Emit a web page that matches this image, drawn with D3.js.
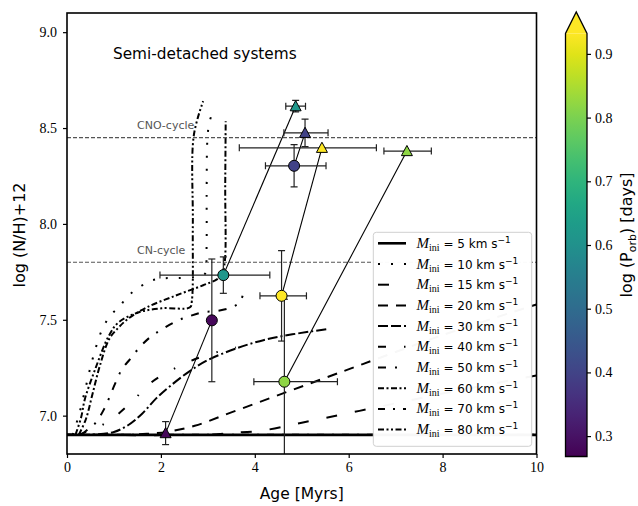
<!DOCTYPE html>
<html><head><meta charset="utf-8">
<script src="https://cdn.jsdelivr.net/npm/d3@7"></script>
<style>body{margin:0;background:#fff}</style>
</head><body><svg id="c" width="638" height="506" xmlns="http://www.w3.org/2000/svg"></svg>
<script>
// ---------------- data ----------------
const xDomain = [0, 10];
const yDomain = [6.8, 9.1];
const xTicks = [0, 2, 4, 6, 8, 10];
const yTicks = [7.0, 7.5, 8.0, 8.5, 9.0];
const cDomain = [0.268, 0.932];
const cTicks = [0.3, 0.4, 0.5, 0.6, 0.7, 0.8, 0.9];

const trackLabels = [5, 10, 15, 20, 30, 40, 50, 60, 70, 80];
const trackDash = ["", "2,11", "11,18", "10,8", "10,3,10,3,2,3", "8,18,1.5,18", "8,9,2,9", "6,2.5,2,2.5", "7,8,2,8", "6,2.5,2,2.5,2,2.5"];

const track5  = [[0,6.9],[10,6.9]];
const track10 = [[0.12,6.9],[0.25,7.0],[0.4,7.15],[0.55,7.3],[0.75,7.45],[0.95,7.53],[1.11,7.565],[1.27,7.617],[1.48,7.659],[1.77,7.702],[2.04,7.716],[2.36,7.718],[2.8,7.725],[2.94,7.74],[2.97,7.85],[2.975,8.2],[2.99,8.44],[3.03,8.527],[3.11,8.587]];
const track15 = [[0,6.9],[3.0,6.901],[3.5,6.91],[4.15,6.922],[5.0,6.963],[6.23,7.025],[8,7.115],[10,7.21]];
const track20 = [[0,6.9],[1.2,6.9],[1.7,6.905],[2.12,6.915],[2.72,6.947],[3.5,7.017],[4.6,7.116],[5.5,7.197],[6.3,7.269],[8,7.42],[10,7.58]];
const track30 = [[0,6.9],[0.6,6.902],[1.0,6.915],[1.3,6.95],[1.6,7.01],[1.9,7.09],[2.2,7.155],[2.6,7.23],[3.0,7.29],[3.6,7.35],[4.2,7.395],[4.8,7.424],[5.53,7.451]];
const track40 = [[0.25,6.9],[0.5,6.925],[0.7,6.945],[1.02,6.995],[1.4,7.077],[1.8,7.174],[2.26,7.242],[2.72,7.294],[3.26,7.336],[3.6,7.355]];
const track50 = [[0.3,6.9],[0.45,6.93],[0.6,6.96],[0.79,7.034],[1.02,7.164],[1.17,7.242],[1.34,7.294],[1.55,7.357],[1.77,7.409],[2.02,7.45],[2.34,7.494],[2.62,7.52],[2.89,7.539],[3.19,7.546],[3.5,7.564],[3.68,7.591],[3.74,7.625]];
const track60 = [[0.25,6.9],[0.4,6.98],[0.55,7.12],[0.7,7.26],[0.9,7.40],[1.1,7.46],[1.3,7.505],[1.7,7.565],[2.3,7.625],[2.9,7.68],[3.2,7.712],[3.3,7.74],[3.36,7.80],[3.37,8.2],[3.38,8.535]];
const track70 = [[0,6.9],[10,6.9]];
const track80 = [[0.18,6.9],[0.3,6.99],[0.38,7.086],[0.6,7.242],[0.89,7.416],[1.1,7.487],[1.53,7.539],[2.02,7.56],[2.62,7.565],[2.66,7.6],[2.68,8.0],[2.7,8.46],[2.9,8.64]];
const tracks = [track5, track10, track15, track20, track30, track40, track50, track60, track70, track80];

const cycleLevels = [8.45, 7.8];
const cycleNames = ["CNO-cycle", "CN-cycle"];

// circles (paired with triangles by index)
const circAge   = [3.085, 3.33, 4.57, 4.63, 4.837];
const circNH    = [7.497, 7.733, 7.625, 7.177, 8.303];
const circXLo   = [0, 1.35, 0.46, 0.65, 0.61];
const circXHi   = [0, 0.99, 0.53, 1.13, 0.68];
const circYErr  = [0.32, 0.095, 0.236, 0.43, 0.11];
const pairPorb  = [0.28, 0.62, 0.93, 0.82, 0.40];
const triAge    = [2.10, 4.87, 5.43, 7.24, 5.07];
const triNH     = [6.909, 8.614, 8.397, 8.38, 8.475];
const triXLo    = [0, 0.21, 1.76, 0.49, 0.45];
const triXHi    = [0, 0.21, 1.16, 0.52, 0.49];
const triYErr   = [0.06, 0.03, 0, 0, 0.072];

// ---------------- drawing ----------------
const svg = d3.select("#c");
svg.append("rect").attr("width",638).attr("height",506).attr("fill","#fff");
const L = 67, R = 536.5, T = 13, B = 454;
const x = d3.scaleLinear().domain(xDomain).range([L, R]);
const y = d3.scaleLinear().domain(yDomain).range([B, T]);
const cnorm = d3.scaleLinear().domain(cDomain).range([0,1]).clamp(true);
const col = v => d3.interpolateViridis(cnorm(v));
const serif = "'Liberation Serif','DejaVu Serif',serif";
const sans = "'DejaVu Sans',sans-serif";

svg.append("defs").append("clipPath").attr("id","clip")
  .append("rect").attr("x",L).attr("y",T).attr("width",R-L).attr("height",B-T);
const plot = svg.append("g").attr("clip-path","url(#clip)");

const line = d3.line().x(d=>x(d[0])).y(d=>y(d[1])).curve(d3.curveCatmullRom.alpha(0.5));
tracks.forEach((tr,i)=>{
  plot.append("path").attr("d", line(tr)).attr("fill","none").attr("stroke","#000")
    .attr("stroke-width", i===0 ? 2.6 : 2).attr("stroke-dasharray", trackDash[i] || null);
});

// cycle lines
cycleLevels.forEach((v,i)=>{
  plot.append("line").attr("x1",L).attr("x2",R).attr("y1",y(v)).attr("y2",y(v))
    .attr("stroke","#555").attr("stroke-width",1.1).attr("stroke-dasharray","4,2");
  svg.append("text").attr("x",137).attr("y",y(v)-8.5).text(cycleNames[i])
    .attr("font-family",sans).attr("font-size",11).attr("fill","#555");
});

// connectors
circAge.forEach((a,i)=>{
  plot.append("line").attr("x1",x(a)).attr("y1",y(circNH[i])).attr("x2",x(triAge[i])).attr("y2",y(triNH[i]))
    .attr("stroke","#000").attr("stroke-width",1.1);
});

function errbar(cx, cy, xlo, xhi, yerr){
  const g = plot.append("g").attr("stroke","#222").attr("stroke-width",1.2);
  const cap = 3.5;
  if (xlo>0 || xhi>0){
    g.append("line").attr("x1",x(cx-xlo)).attr("x2",x(cx+xhi)).attr("y1",y(cy)).attr("y2",y(cy));
    [cx-xlo, cx+xhi].forEach(v=>g.append("line").attr("x1",x(v)).attr("x2",x(v)).attr("y1",y(cy)-cap).attr("y2",y(cy)+cap));
  }
  if (yerr>0){
    g.append("line").attr("x1",x(cx)).attr("x2",x(cx)).attr("y1",y(cy-yerr)).attr("y2",y(cy+yerr));
    [cy-yerr, cy+yerr].forEach(v=>g.append("line").attr("x1",x(cx)-cap).attr("x2",x(cx)+cap).attr("y1",y(v)).attr("y2",y(v)));
  }
}
circAge.forEach((a,i)=>errbar(a, circNH[i], circXLo[i], circXHi[i], circYErr[i]));
triAge.forEach((a,i)=>errbar(a, triNH[i], triXLo[i], triXHi[i], triYErr[i]));

circAge.forEach((a,i)=>{
  plot.append("circle").attr("cx",x(a)).attr("cy",y(circNH[i])).attr("r",5.5)
    .attr("fill",col(pairPorb[i])).attr("stroke","#000").attr("stroke-width",1);
});
triAge.forEach((a,i)=>{
  const cx = x(a), cy = y(triNH[i]);
  plot.append("path").attr("d",`M${cx},${cy-5.6}L${cx+5.5},${cy+4.6}L${cx-5.5},${cy+4.6}Z`)
    .attr("fill",col(pairPorb[i])).attr("stroke","#000").attr("stroke-width",1);
});

// frame
svg.append("rect").attr("x",L).attr("y",T).attr("width",R-L).attr("height",B-T)
  .attr("fill","none").attr("stroke","#000").attr("stroke-width",1.6);

// axes
const xa = svg.append("g").attr("transform",`translate(0,${B})`)
  .call(d3.axisBottom(x).tickValues(xTicks).tickFormat(d3.format("d")).tickSize(4).tickPadding(4));
const ya = svg.append("g").attr("transform",`translate(${L},0)`)
  .call(d3.axisLeft(y).tickValues(yTicks).tickFormat(d3.format(".1f")).tickSize(4).tickPadding(6));
[xa,ya].forEach(a=>{
  a.select(".domain").remove();
  a.selectAll(".tick line").attr("stroke","#000").attr("stroke-width",1.2);
  a.selectAll(".tick text").attr("font-family",serif).attr("font-size",14).attr("fill","#000");
});

svg.append("text").attr("x",(L+R)/2).attr("y",499).attr("text-anchor","middle")
  .attr("font-family",sans).attr("font-size",15.5).text("Age [Myrs]");
svg.append("text").attr("transform","translate(25,235) rotate(-90)").attr("text-anchor","middle")
  .attr("font-family",sans).attr("font-size",16).text("log (N/H)+12");
svg.append("text").attr("x",113).attr("y",59).attr("font-family",sans).attr("font-size",15.3)
  .text("Semi-detached systems");

// legend
const lg = svg.append("g");
lg.append("rect").attr("x",373.3).attr("y",232.3).attr("width",158.4).attr("height",214).attr("rx",3)
  .attr("fill","#fff").attr("fill-opacity",0.97).attr("stroke","#d0d0d0").attr("stroke-width",1);
trackLabels.forEach((v,i)=>{
  const ry = 243.3 + i*20.7;
  lg.append("line").attr("x1",378).attr("x2",406).attr("y1",ry).attr("y2",ry)
    .attr("stroke","#000").attr("stroke-width", i===0 ? 2.6 : 2).attr("stroke-dasharray", trackDash[i] || null);
  const t = lg.append("text").attr("x",416.5).attr("y",ry+4.5).attr("fill","#000");
  t.append("tspan").attr("font-family",serif).attr("font-style","italic").attr("font-size",15).text("M");
  t.append("tspan").attr("font-family",serif).attr("font-size",10).attr("dy",3).text("ini");
  t.append("tspan").attr("font-family",sans).attr("font-size",12).attr("dy",-3).text(` = ${v} km s`);
  t.append("tspan").attr("font-family",sans).attr("font-size",9).attr("dy",-5).text("\u22121");
});

// colorbar
const cbL = 565.5, cbR = 587, cbT = 33.5, cbB = 456.5;
const cy = d3.scaleLinear().domain(cDomain).range([cbB, cbT]);
const grad = svg.select("defs").append("linearGradient").attr("id","vir")
  .attr("x1",0).attr("y1",1).attr("x2",0).attr("y2",0);
d3.range(0,1.0001,0.05).forEach(t=>grad.append("stop").attr("offset",t).attr("stop-color",d3.interpolateViridis(t)));
svg.append("rect").attr("x",cbL).attr("y",cbT).attr("width",cbR-cbL).attr("height",cbB-cbT).attr("fill","url(#vir)");
svg.append("path").attr("d",`M${cbL},${cbT}L${(cbL+cbR)/2},12L${cbR},${cbT}Z`).attr("fill",d3.interpolateViridis(1));
svg.append("path").attr("d",`M${cbL},${cbB}L${cbL},${cbT}L${(cbL+cbR)/2},12L${cbR},${cbT}L${cbR},${cbB}Z`)
  .attr("fill","none").attr("stroke","#000").attr("stroke-width",1.3);
const ca = svg.append("g").attr("transform",`translate(${cbR},0)`)
  .call(d3.axisRight(cy).tickValues(cTicks).tickFormat(d3.format(".1f")).tickSize(4).tickPadding(4));
ca.select(".domain").remove();
ca.selectAll(".tick line").attr("stroke","#000").attr("stroke-width",1.2);
ca.selectAll(".tick text").attr("font-family",serif).attr("font-size",14).attr("fill","#000");
const cl = svg.append("text").attr("transform","translate(632,235) rotate(-90)").attr("text-anchor","middle")
  .attr("font-family",sans).attr("font-size",16);
cl.append("tspan").text("log (P");
cl.append("tspan").attr("font-size",11).attr("dy",4).text("orb");
cl.append("tspan").attr("dy",-4).text(") [days]");
</script></body></html>
